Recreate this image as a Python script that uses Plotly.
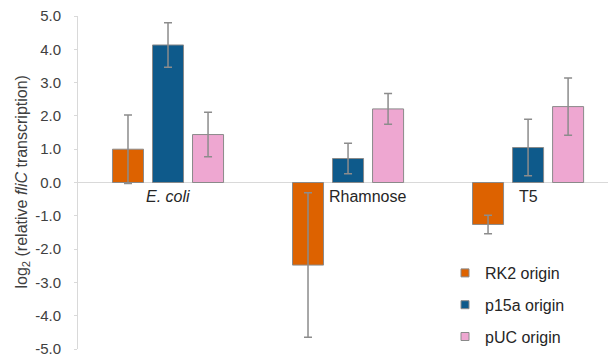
import plotly.graph_objects as go

categories = ["<i>E. coli</i>", "Rhamnose", "T5"]
series_names = ["RK2 origin", "p15a origin", "pUC origin"]
rk2_values = [1.00, -2.48, -1.26]
rk2_errors = [1.03, 2.17, 0.28]
p15a_values = [4.13, 0.72, 1.05]
p15a_errors = [0.67, 0.46, 0.85]
puc_values = [1.44, 2.21, 2.28]
puc_errors = [0.67, 0.46, 0.86]
label_offsets = [0.0, 0.11, 0.0]
y_tick_vals = [5, 4, 3, 2, 1, 0, -1, -2, -3, -4, -5]
y_tick_text = ["5.0", "4.0", "3.0", "2.0", "1.0", "0.0", "-1.0", "-2.0", "-3.0", "-4.0", "-5.0"]

colors = ["#DD6200", "#0E5A8B", "#EEA7D1"]
x_pos = list(range(len(categories)))
FONT = "Liberation Sans, Arial"
TOP, BOT, LEFT = 16, 349, 78
PH = BOT - TOP
PW = 608 - LEFT

fig = go.Figure()
for name, vals, errs, col in zip(series_names,
                                  [rk2_values, p15a_values, puc_values],
                                  [rk2_errors, p15a_errors, puc_errors],
                                  colors):
    fig.add_trace(go.Bar(
        x=x_pos, y=vals, name=name, showlegend=False,
        marker=dict(color=col, line=dict(color="#8A8A8A", width=1)),
        error_y=dict(type="data", array=errs, visible=True,
                     color="#8C8C8C", thickness=1.5, width=4),
    ))
    fig.add_trace(go.Scatter(
        x=[None], y=[None], mode="markers", name=name, legendgroup=name,
        marker=dict(symbol="square", size=8, color=col,
                    line=dict(color="#8A8A8A", width=1)),
    ))

for xi, lab, off in zip(x_pos, categories, label_offsets):
    fig.add_annotation(x=xi + off, y=-0.42, xref="x", yref="y", text=lab,
                       showarrow=False, xanchor="center", yanchor="middle",
                       font=dict(family=FONT, size=16, color="#262626"))

fig.add_annotation(x=(22 - LEFT) / PW, y=0.5, xref="paper", yref="paper",
                   text="log<sub>2</sub> (relative <i>fliC</i> transcription)",
                   textangle=-90, showarrow=False, xanchor="center", yanchor="middle",
                   font=dict(family=FONT, size=16, color="#404040"))

fig.update_layout(
    template="none",
    width=608, height=358,
    margin=dict(l=LEFT, r=0, t=TOP, b=358 - BOT, autoexpand=False),
    paper_bgcolor="white", plot_bgcolor="white",
    barmode="group", bargap=0.333, bargroupgap=0.225,
    font=dict(family=FONT, size=15, color="#404040"),
    showlegend=True,
    legend=dict(x=(445 - LEFT) / PW, y=(BOT - 256) / PH, xanchor="left", yanchor="top",
                tracegroupgap=8, bgcolor="rgba(0,0,0,0)", borderwidth=0,
                font=dict(family=FONT, size=16, color="#262626")),
    xaxis=dict(range=[-0.5, 2.444], showticklabels=False, showgrid=False,
               zeroline=False, showline=False, ticks="", automargin=False),
    yaxis=dict(range=[-5, 5], tickvals=y_tick_vals, ticktext=y_tick_text,
               showgrid=False, zeroline=True, zerolinecolor="#D9D9D9", zerolinewidth=1,
               showline=True, linecolor="#D9D9D9", linewidth=1,
               ticks="outside", ticklen=3, tickcolor="#D9D9D9",
               ticklabelstandoff=10, automargin=False, ticklabeloverflow="allow",
               tickfont=dict(family=FONT, size=15, color="#404040")),
)

fig.write_html("out.html", config={"displayModeBar": False},
               post_script="document.body.style.margin='0';")
